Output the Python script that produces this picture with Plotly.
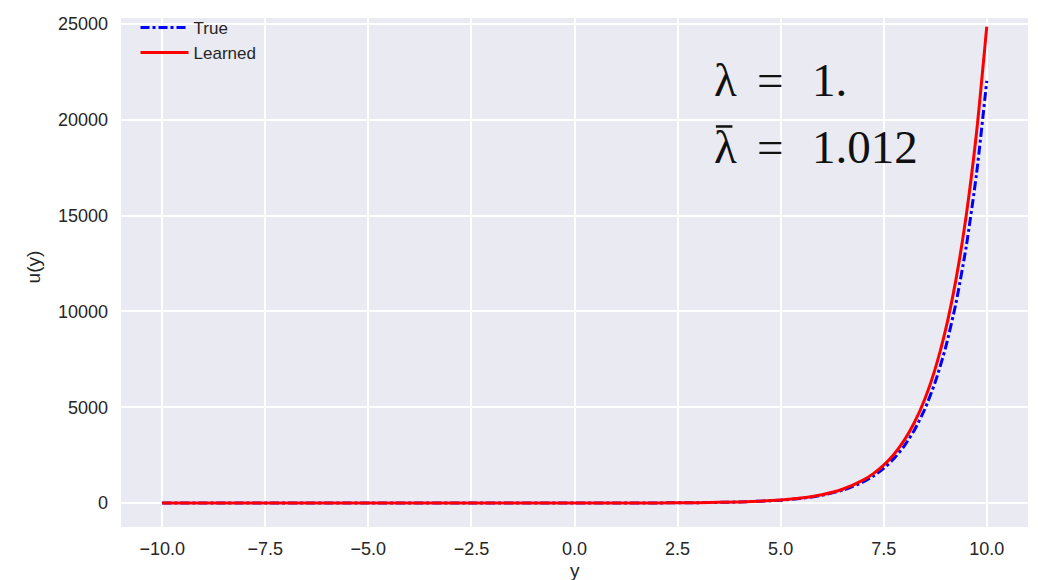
import plotly.graph_objects as go

# Sample points of the two solution curves u(y)
y_vals = [-10.0, -7.5, -5.0, -2.5, 0.0, 1.0, 2.0, 3.0, 4.0, 5.0, 5.5, 6.0, 6.5,
          7.0, 7.25, 7.5, 7.75, 8.0, 8.25, 8.5, 8.75, 9.0, 9.25, 9.5, 9.75, 10.0]
u_true = [0, 1, 0, 0, 1, 3, 7, 20, 55, 148, 245, 403, 665,
          1097, 1408, 1808, 2322, 2981, 3828, 4915, 6311, 8103, 10405, 13360, 17154, 22026]
u_learned = [0, 1, 0, 0, 1, 3, 8, 21, 57, 158, 262, 434, 720,
             1193, 1537, 1979, 2549, 3283, 4228, 5446, 7015, 9033, 11633, 14985, 19296, 24857]

x_ticks = [-10.0, -7.5, -5.0, -2.5, 0.0, 2.5, 5.0, 7.5, 10.0]
y_ticks = [0, 5000, 10000, 15000, 20000, 25000]

fig = go.Figure()
fig.add_trace(go.Scatter(
    x=y_vals, y=u_true, name="True", mode="lines",
    line=dict(color="#0000ff", width=3, dash="dashdot", shape="spline", smoothing=0.6),
))
fig.add_trace(go.Scatter(
    x=y_vals, y=u_learned, name="Learned", mode="lines",
    line=dict(color="#ff0000", width=3, shape="spline", smoothing=0.6),
))

# Parameter text block: symbol, equals sign and value placed separately
serif = "Liberation Serif, DejaVu Serif, serif"
tfont = dict(family=serif, size=47, color="#111111")
rows = [("λ", "1.", 22050), ("λ", "1.012", 18560)]
for sym, val, yy in rows:
    fig.add_annotation(x=3.33, y=yy, xanchor="left", yanchor="middle", text=sym,
                       showarrow=False, font=tfont)
    fig.add_annotation(x=4.38, y=yy, xanchor="left", yanchor="middle", text="=",
                       showarrow=False, font=tfont)
    fig.add_annotation(x=5.72, y=yy, xanchor="left", yanchor="middle", text=val,
                       showarrow=False, font=tfont)
# bar over the second lambda
fig.add_shape(type="line", xref="x", yref="y", x0=3.43, x1=3.83, y0=19650, y1=19650,
              line=dict(color="#111111", width=2.5))

label_color = "#262626"
axis_font = dict(family="Liberation Sans, Arial, sans-serif", size=18, color=label_color)

# Axis titles
fig.add_annotation(x=0.5, y=-0.085, xref="paper", yref="paper", xanchor="center",
                   yanchor="middle", text="y", showarrow=False,
                   font=dict(size=19, color=label_color))
fig.add_annotation(x=-0.097, y=0.51, xref="paper", yref="paper", xanchor="center",
                   yanchor="middle", text="u(y)", textangle=-90, showarrow=False,
                   font=dict(size=19, color=label_color))

fig.update_layout(
    width=1038, height=580,
    margin=dict(l=121, r=10, t=18, b=53),
    paper_bgcolor="white",
    plot_bgcolor="#EAEAF2",
    font=axis_font,
    showlegend=True,
    legend=dict(x=0.016, y=1.016, xanchor="left", yanchor="top",
                bgcolor="rgba(0,0,0,0)", font=dict(size=17, color=label_color),
                itemwidth=48, tracegroupgap=0),
    xaxis=dict(
        range=[-11.0, 11.0], tickvals=x_ticks, tickformat=".1f",
        showgrid=True, gridcolor="white", gridwidth=1.5,
        zeroline=False, showline=False, ticks="",
        ticklabelstandoff=9, automargin=False,
        tickfont=axis_font,
    ),
    yaxis=dict(
        range=[-1250, 25310], tickvals=y_ticks, tickformat="d",
        showgrid=True, gridcolor="white", gridwidth=1.5,
        zeroline=False, showline=False, ticks="",
        ticklabelstandoff=12, automargin=False,
        tickfont=axis_font,
    ),
)

fig.write_html("out.html")
